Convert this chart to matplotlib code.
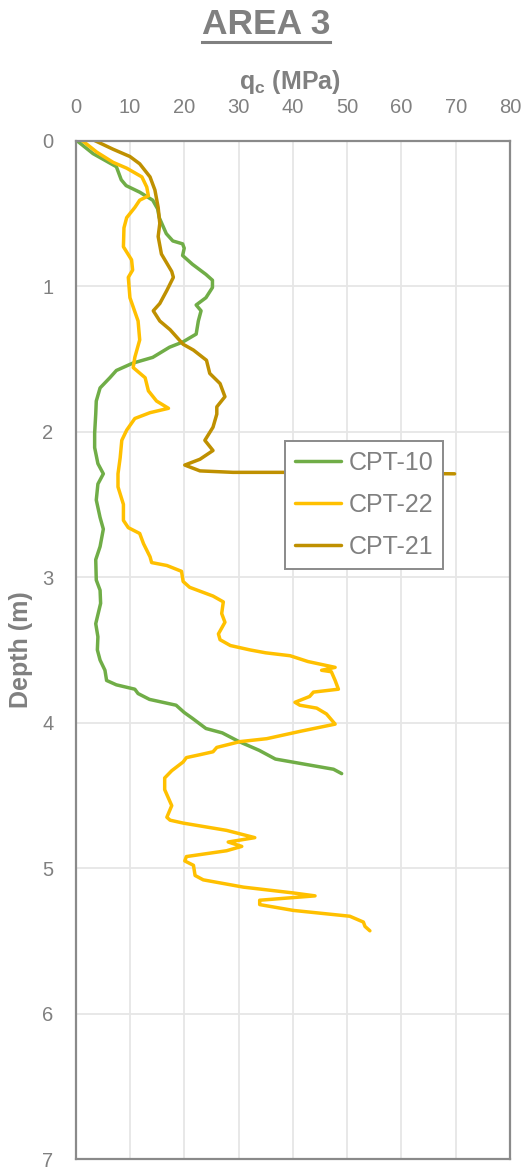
import matplotlib
matplotlib.use('Agg')
import matplotlib.pyplot as plt
from matplotlib.lines import Line2D

plt.rcParams['font.family'] = ['Liberation Sans', 'DejaVu Sans']
plt.rcParams['mathtext.fontset'] = 'custom'
plt.rcParams['mathtext.rm'] = 'Liberation Sans'
plt.rcParams['mathtext.bf'] = 'Liberation Sans:bold'

GREY = '#808080'

# CPT-10 (green)
cpt10_depth = [0.0, 0.09, 0.18, 0.27, 0.31, 0.355, 0.41, 0.47, 0.53, 0.64, 0.69, 0.71,
               0.74, 0.79, 0.85, 0.92, 0.96, 1.01, 1.08, 1.13, 1.17, 1.24, 1.33, 1.385,
               1.42, 1.49, 1.53, 1.58, 1.63, 1.70, 1.79, 1.88, 2.01, 2.11, 2.22, 2.29,
               2.36, 2.47, 2.59, 2.67, 2.79, 2.88, 3.02, 3.09, 3.18, 3.32, 3.41, 3.50,
               3.57, 3.64, 3.71, 3.74, 3.77, 3.80, 3.84, 3.88, 3.93, 3.97, 4.04, 4.07,
               4.13, 4.19, 4.25, 4.29, 4.32, 4.35]
cpt10_qc = [0.2, 3.2, 7.5, 8.4, 9.3, 11.8, 14.2, 15.1, 15.4, 16.7, 17.9, 19.7,
            20.0, 19.7, 21.5, 24.0, 25.2, 25.2, 24.0, 22.2, 23.1, 22.6, 22.2, 19.7,
            17.3, 14.2, 10.5, 7.5, 6.3, 4.5, 3.8, 3.7, 3.5, 3.5, 4.1, 5.1,
            4.1, 3.8, 4.5, 5.1, 4.5, 3.7, 3.8, 4.5, 4.6, 3.7, 4.1, 4.0,
            4.5, 5.4, 5.7, 7.5, 10.9, 11.5, 13.6, 18.5, 20.0, 21.5, 24.0, 27.0,
            30.1, 33.8, 36.8, 42.9, 47.5, 49.0]

# CPT-22 (yellow)
cpt22_depth = [0.0, 0.08, 0.15, 0.19, 0.25, 0.32, 0.38, 0.41, 0.46, 0.53, 0.60, 0.73,
               0.82, 0.89, 0.94, 1.08, 1.24, 1.37, 1.49, 1.56, 1.63, 1.72, 1.79, 1.84,
               1.87, 1.91, 1.99, 2.06, 2.18, 2.29, 2.38, 2.50, 2.61, 2.66, 2.70, 2.77,
               2.86, 2.90, 2.92, 2.96, 3.03, 3.07, 3.13, 3.17, 3.25, 3.31, 3.39, 3.43,
               3.47, 3.50, 3.52, 3.54, 3.58, 3.62, 3.64, 3.65, 3.71, 3.77, 3.79, 3.82,
               3.86, 3.88, 3.90, 3.94, 4.01, 4.06, 4.11, 4.13, 4.17, 4.20, 4.22, 4.24,
               4.27, 4.33, 4.38, 4.46, 4.57, 4.65, 4.67, 4.69, 4.74, 4.79, 4.82, 4.85,
               4.88, 4.92, 4.95, 4.98, 5.05, 5.08, 5.13, 5.17, 5.19, 5.22, 5.25, 5.29,
               5.33, 5.37, 5.40, 5.43]
cpt22_qc = [1.2, 3.9, 6.9, 9.4, 12.2, 13.1, 13.4, 11.8, 10.9, 9.4, 8.9, 8.8,
            10.3, 10.5, 9.7, 10.0, 11.5, 11.8, 10.9, 10.6, 12.8, 13.4, 14.9, 17.1,
            13.7, 10.9, 9.4, 8.5, 8.2, 7.8, 7.8, 8.8, 8.8, 9.7, 11.8, 12.5,
            13.7, 14.0, 16.8, 19.5, 19.8, 21.0, 25.3, 27.2, 26.9, 27.5, 26.3, 26.6,
            28.5, 32.1, 35.0, 39.5, 42.8, 47.8, 45.3, 47.1, 47.8, 48.4, 43.8, 43.1,
            40.4, 41.3, 44.4, 46.2, 47.8, 41.3, 35.2, 30.3, 26.0, 25.3, 22.9, 20.4,
            19.8, 17.7, 16.4, 16.4, 17.7, 16.8, 17.4, 19.8, 27.8, 33.0, 28.1, 30.6,
            27.8, 20.4, 20.1, 21.7, 22.0, 23.5, 30.9, 40.1, 44.1, 33.9, 33.9, 40.1,
            50.5, 53.0, 53.3, 54.2]

# CPT-21 (dark yellow)
cpt21_depth = [0.0, 0.06, 0.11, 0.16, 0.25, 0.34, 0.46, 0.57, 0.66, 0.78, 0.90, 0.94,
               1.03, 1.12, 1.17, 1.24, 1.30, 1.40, 1.44, 1.51, 1.60, 1.67, 1.76, 1.83,
               1.88, 1.97, 2.06, 2.13, 2.19, 2.23, 2.27, 2.28, 2.28, 2.29]
cpt21_qc = [3.5, 6.9, 10.0, 11.8, 13.7, 14.6, 15.2, 15.5, 15.2, 15.8, 17.7, 18.0,
            16.8, 15.5, 14.3, 15.5, 17.4, 19.8, 21.7, 24.1, 24.7, 26.6, 27.5, 26.0,
            26.0, 25.3, 23.8, 25.3, 22.9, 20.1, 22.9, 29.0, 38.2, 69.8]

x_ticks = [0, 10, 20, 30, 40, 50, 60, 70, 80]
y_ticks = [0, 1, 2, 3, 4, 5, 6, 7]

fig = plt.figure(figsize=(5.29, 11.71), dpi=100)
ax = fig.add_axes([0.143, 0.010, 0.821, 0.870])

line_kw = dict(lw=2.5, solid_joinstyle='round', solid_capstyle='round')
ax.plot(cpt10_qc, cpt10_depth, color='#70AD47', label='CPT-10', **line_kw)
ax.plot(cpt22_qc, cpt22_depth, color='#FFC000', label='CPT-22', **line_kw)
ax.plot(cpt21_qc, cpt21_depth, color='#BF9000', label='CPT-21', **line_kw)

ax.set_xlim(0, 80)
ax.set_ylim(7, 0)
ax.set_xticks(x_ticks)
ax.set_yticks(y_ticks)
ax.xaxis.tick_top()
ax.tick_params(axis='both', length=0, labelsize=14.5, labelcolor=GREY)
ax.tick_params(axis='x', pad=17)
ax.tick_params(axis='y', pad=16)
ax.grid(True, color='#e6e6e6', lw=1.3)
ax.set_axisbelow(True)
for s in ax.spines.values():
    s.set_color('#8a8a8a')
    s.set_linewidth(1.6)

leg = ax.legend(loc='upper left', bbox_to_anchor=(0.482, 0.705), fontsize=18,
                frameon=True, fancybox=False, framealpha=1, edgecolor='#8a8a8a',
                handlelength=1.85, handletextpad=0.3, labelspacing=0.72,
                borderpad=0.4, borderaxespad=0)
leg.get_frame().set_linewidth(1.4)
for t in leg.get_texts():
    t.set_color(GREY)

fig.text(0.548, 1 - 82 / 1171, r'q$_\mathbf{c}$ (MPa)', ha='center', va='center',
         fontsize=18, fontweight='bold', color=GREY)
fig.text(21 / 529, 1 - 650 / 1171, 'Depth (m)', ha='center', va='center',
         rotation=90, fontsize=18, fontweight='bold', color=GREY)

title = fig.text(266 / 529, 1 - 24 / 1171, 'AREA 3', ha='center', va='center',
                 fontsize=25.5, fontweight='bold', color=GREY)
fig.canvas.draw()
bb = title.get_window_extent().transformed(fig.transFigure.inverted())
uy = 1 - 42 / 1171
fig.add_artist(Line2D([bb.x0, bb.x1], [uy, uy], transform=fig.transFigure,
                      color=GREY, lw=2.2))

fig.savefig('out.png', dpi=100)
